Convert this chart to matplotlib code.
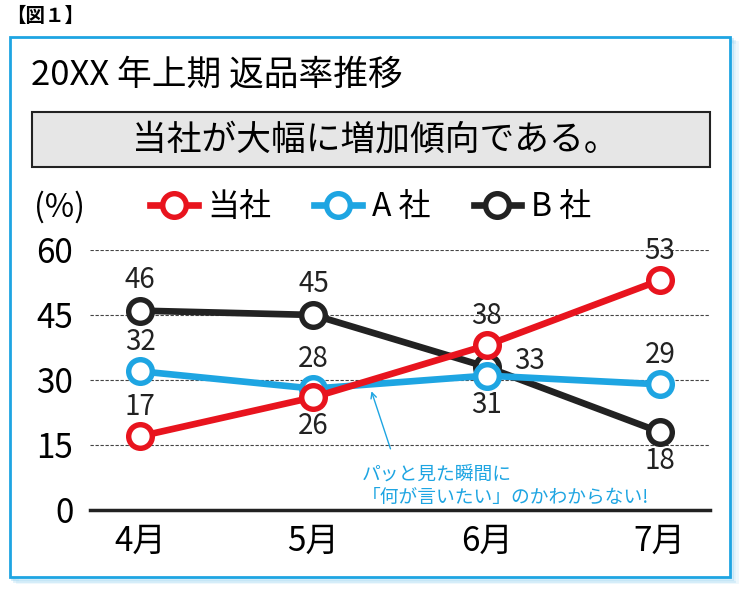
import matplotlib
matplotlib.use("Agg")
import matplotlib.pyplot as plt
from matplotlib.patches import Rectangle

plt.rcParams['font.family'] = ['Noto Sans CJK JP', 'DejaVu Sans']

# ----------------- Data -----------------
months = ["4月", "5月", "6月", "7月"]
series_names = ["当社", "A 社", "B 社"]
ours = [17, 26, 38, 53]
comp_a = [32, 28, 31, 29]
comp_b = [46, 45, 33, 18]
y_ticks = [0, 15, 30, 45, 60]

# label placement per point: (dx, dy) in points
ours_off = [(0, 21), (0, -21), (0, 21), (0, 21)]
a_off = [(0, 21), (0, 21), (0, -21), (0, 21)]
b_off = [(0, 22), (0, 22), (31, 4), (0, -21)]

RED = "#e8141e"
BLUE = "#1ea5e2"
BLACK = "#222222"

fig = plt.figure(figsize=(7.5, 5.98), dpi=100)

# outer frame with soft shadow
for i, a in enumerate([0.4, 0.28, 0.16]):
    d = (i + 1) * 0.003
    fig.patches.append(Rectangle((0.013 + d, 0.035 - d), 0.96, 0.903, transform=fig.transFigure,
                                 fill=False, edgecolor="#8fd0f0", lw=2, alpha=a, zorder=0))
fig.patches.append(Rectangle((0.013, 0.035), 0.96, 0.903, transform=fig.transFigure,
                             facecolor="white", edgecolor=BLUE, lw=2, zorder=1))

fig.text(0.008, 0.972, "【図１】", fontsize=14, va="center", ha="left", weight="bold", zorder=3)
fig.text(0.041, 0.875, "20XX 年上期 返品率推移", fontsize=25, va="center", ha="left", zorder=3)

# headline box
fig.patches.append(Rectangle((0.043, 0.72), 0.904, 0.093, transform=fig.transFigure,
                             facecolor="#e6e6e6", edgecolor=BLACK, lw=1.5, zorder=2))
fig.text(0.5, 0.766, "当社が大幅に増加傾向である。", fontsize=25, va="center", ha="center", zorder=3)

fig.text(0.045, 0.654, "(%)", fontsize=23, va="center", ha="left", zorder=3)

ax = fig.add_axes([0.12, 0.1472, 0.8267, 0.4348])
ax.set_zorder(5)
ax.patch.set_alpha(0)
x = list(range(len(months)))

style = dict(lw=4.8, marker="o", markersize=17, markerfacecolor="white", markeredgewidth=3.9,
             clip_on=False)
lines = []
for vals, col, offs, z in [(comp_b, BLACK, b_off, 3), (comp_a, BLUE, a_off, 4), (ours, RED, ours_off, 5)]:
    ln, = ax.plot(x, vals, color=col, markeredgecolor=col, zorder=z, **style)
    lines.append(ln)
    for xi, v, (dx, dy) in zip(x, vals, offs):
        ax.annotate(str(v), (xi, v), xytext=(dx, dy), textcoords="offset points",
                    ha="center", va="center", fontsize=20, color=BLACK, zorder=6)

ax.set_xlim(-0.29, 3.29)
ax.set_ylim(0, 60)
ax.set_yticks(y_ticks)
ax.set_xticks(x)
ax.set_xticklabels(months)
ax.tick_params(axis="both", length=0, labelsize=24)
ax.tick_params(axis="y", pad=12)
ax.tick_params(axis="x", pad=10)
for s in ["top", "right", "left"]:
    ax.spines[s].set_visible(False)
ax.spines["bottom"].set_linewidth(2.5)
ax.spines["bottom"].set_color(BLACK)
for t in y_ticks[1:]:
    ax.axhline(t, color="#444444", lw=0.8, ls=(0, (3, 1.5)), zorder=1)

leg = ax.legend([lines[2], lines[1], lines[0]], series_names, ncol=3, frameon=False,
                loc="center left", bbox_to_anchor=(0.05, 1.165), fontsize=23,
                handlelength=1.5, handletextpad=0.3, columnspacing=1.35)

# handwritten style comment
ax.annotate("", xy=(1.33, 28.0), xytext=(1.45, 13.5),
            arrowprops=dict(arrowstyle="->", color=BLUE, lw=1.0))
ax.text(1.28, 10.6, "パッと見た瞬間に\n「何が言いたい」のかわからない!", color=BLUE,
        fontsize=13.5, ha="left", va="top", linespacing=1.1)

fig.savefig("out.png", dpi=100)
